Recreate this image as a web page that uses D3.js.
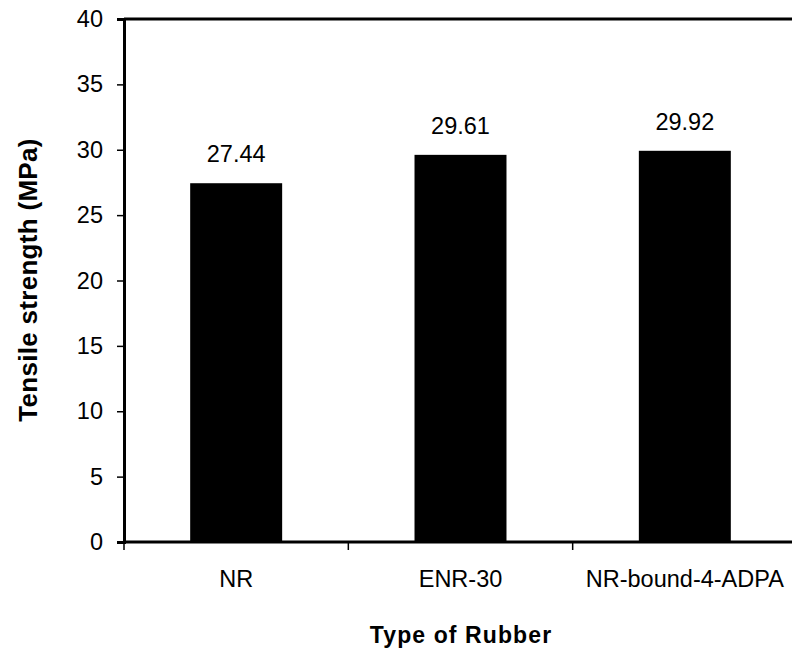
<!DOCTYPE html>
<html>
<head>
<meta charset="utf-8">
<script src="https://cdn.jsdelivr.net/npm/d3@7"></script>
<style>
  html, body { margin: 0; padding: 0; background: #fff; }
  svg { display: block; }
  text { font-family: Arial, "Liberation Sans", sans-serif; fill: #000; }
</style>
</head>
<body>
<svg id="chart" width="792" height="653"></svg>
<script>
// Tensile strength by rubber type
const categories = ["NR", "ENR-30", "NR-bound-4-ADPA"];
const strength = [27.44, 29.61, 29.92];
const yTicks = [0, 5, 10, 15, 20, 25, 30, 35, 40];

const svg = d3.select("#chart");
const plotLeft = 124, plotRight = 797, plotTop = 19, plotBottom = 542;
const fontSize = 23.5;

const x = d3.scaleBand().domain(categories).range([plotLeft, plotRight]).paddingInner(0.59).paddingOuter(0.295);
const y = d3.scaleLinear().domain([0, 40]).range([plotBottom, plotTop]);

// plot frame: top border
svg.append("line")
  .attr("x1", plotLeft).attr("x2", plotRight)
  .attr("y1", plotTop).attr("y2", plotTop)
  .attr("stroke", "#000").attr("stroke-width", 3);

// bars
svg.append("g").selectAll("rect")
  .data(categories)
  .join("rect")
  .attr("x", d => x(d))
  .attr("width", x.bandwidth())
  .attr("y", (d, i) => y(strength[i]))
  .attr("height", (d, i) => y(0) - y(strength[i]))
  .attr("fill", "#000");

// value labels
svg.append("g").selectAll("text")
  .data(categories)
  .join("text")
  .attr("x", d => x(d) + x.bandwidth() / 2)
  .attr("y", (d, i) => y(strength[i]) - 21)
  .attr("text-anchor", "middle")
  .attr("font-size", fontSize)
  .text((d, i) => strength[i].toFixed(2));

// y axis
const yAxis = svg.append("g")
  .attr("transform", `translate(${plotLeft},0)`)
  .call(d3.axisLeft(y).tickValues(yTicks).tickSize(7).tickPadding(14));
yAxis.select(".domain").attr("stroke-width", 3);
yAxis.selectAll(".tick line").attr("stroke-width", 1.5);
yAxis.selectAll(".tick text")
  .attr("font-size", fontSize)
  .attr("font-family", "Arial, 'Liberation Sans', sans-serif")
  .attr("fill", "#000");

// x axis: ticks sit between categories
const step = x.step();
const boundaries = d3.range(categories.length + 1).map(i => plotLeft + i * step);
const xAxis = svg.append("g");
xAxis.append("line")
  .attr("x1", plotLeft).attr("x2", plotRight)
  .attr("y1", plotBottom).attr("y2", plotBottom)
  .attr("stroke", "#000").attr("stroke-width", 3);
xAxis.selectAll("line.tick")
  .data(boundaries)
  .join("line")
  .attr("class", "tick")
  .attr("x1", d => d).attr("x2", d => d)
  .attr("y1", plotBottom).attr("y2", plotBottom + 8)
  .attr("stroke", "#000").attr("stroke-width", 1.5);
xAxis.selectAll("text")
  .data(categories)
  .join("text")
  .attr("x", d => x(d) + x.bandwidth() / 2)
  .attr("y", 587)
  .attr("text-anchor", "middle")
  .attr("font-size", fontSize)
  .text(d => d);

// axis titles
svg.append("text")
  .attr("x", 461).attr("y", 643)
  .attr("text-anchor", "middle")
  .attr("font-size", 23)
  .attr("font-weight", "bold")
  .attr("letter-spacing", 1.1)
  .text("Type of Rubber");

svg.append("text")
  .attr("transform", "translate(37,280) rotate(-90)")
  .attr("text-anchor", "middle")
  .attr("font-size", 26)
  .attr("font-weight", "bold")
  .attr("letter-spacing", 0.3)
  .text("Tensile strength (MPa)");
</script>
</body>
</html>
